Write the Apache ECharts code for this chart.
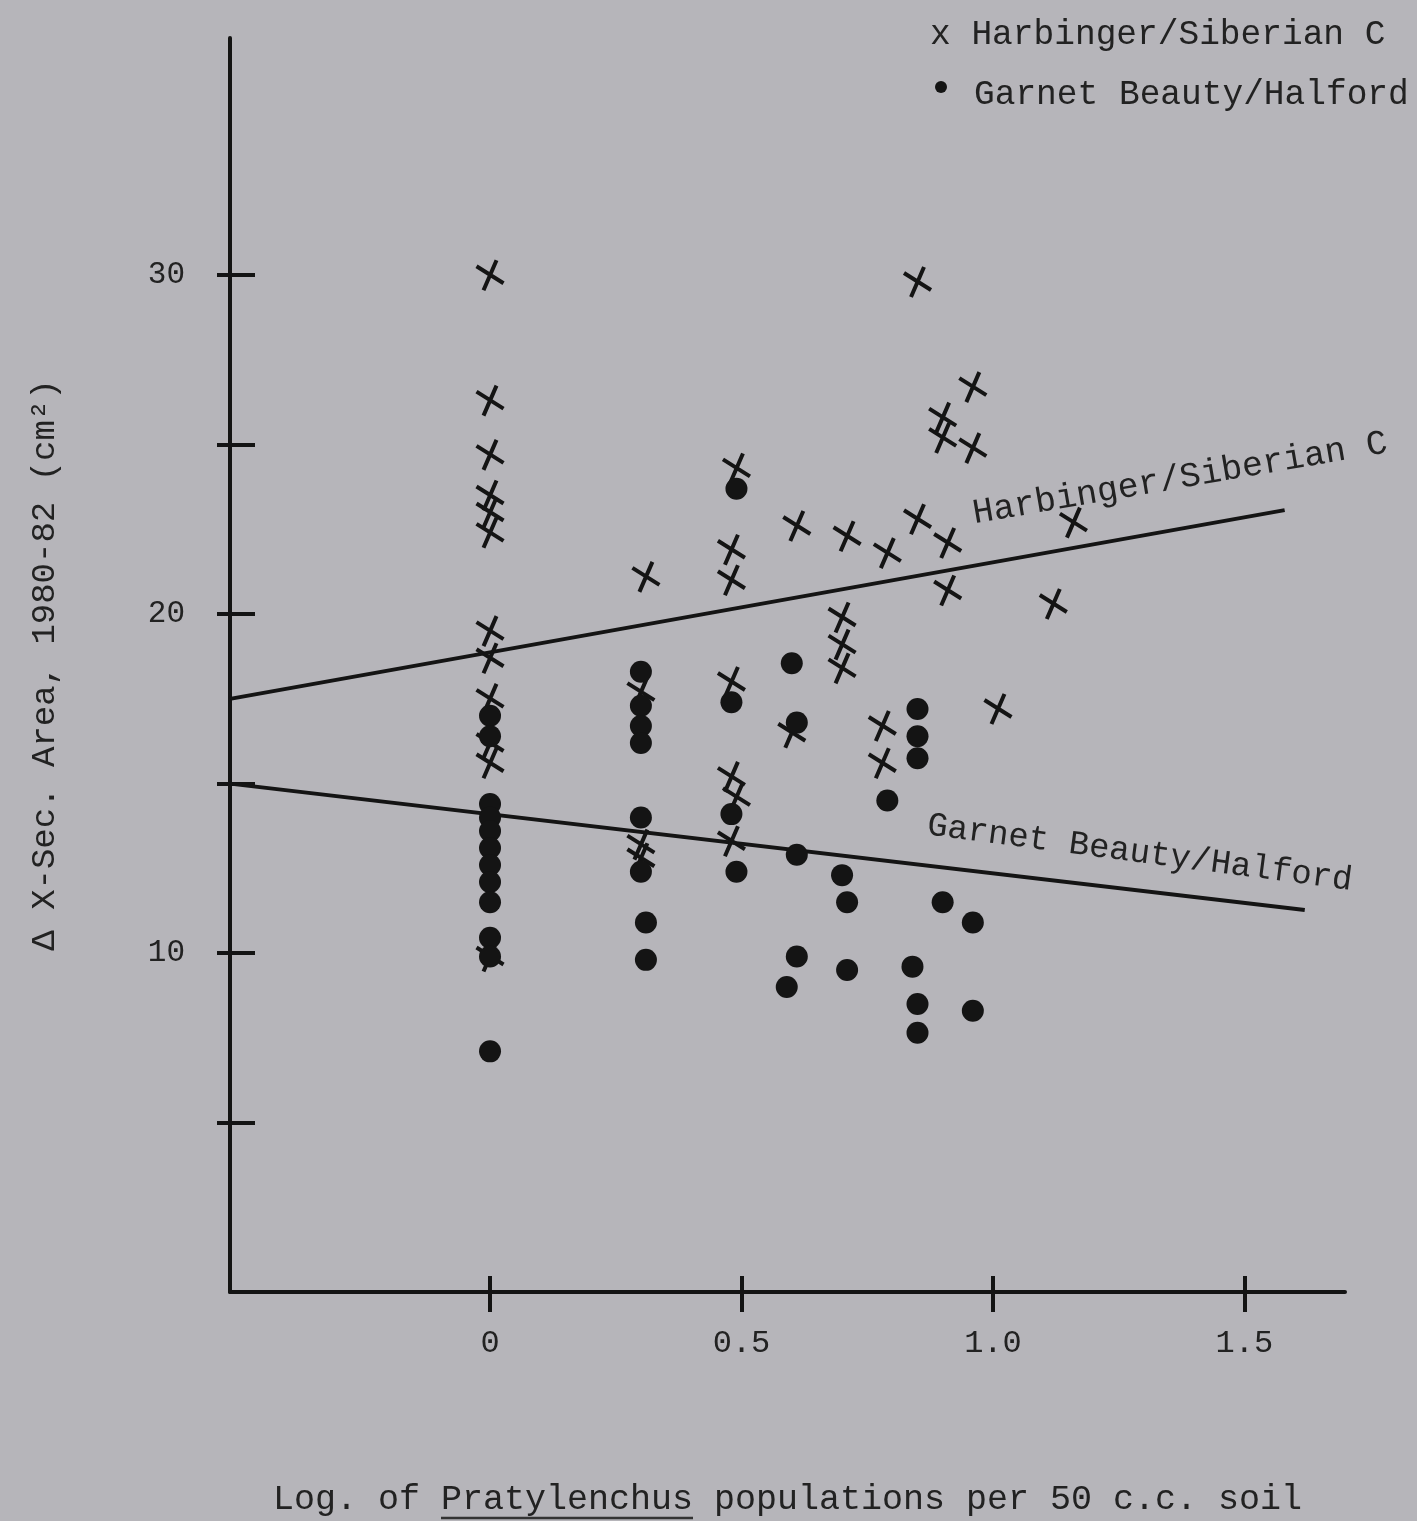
<!DOCTYPE html>
<html><head><meta charset="utf-8">
<script src="https://cdn.jsdelivr.net/npm/echarts@6/dist/echarts.min.js"></script>
<style>html,body{margin:0;padding:0;background:#b6b5ba}#c{width:1417px;height:1521px}</style>
</head><body><div id="c"></div>
<script>
// Harbinger/Siberian C  (x marks)  [log population, delta area]
const harbinger = [
  [0,30.0],[0,26.3],[0,24.7],[0,23.5],[0,23.0],[0,22.4],[0,19.5],[0,18.7],[0,17.5],[0,16.2],[0,15.6],[0,9.9],
  [0.31,21.1],[0.30,17.7],[0.30,13.2],[0.30,12.8],
  [0.49,24.3],[0.48,21.9],[0.48,21.0],[0.48,18.0],[0.48,15.2],[0.49,14.6],[0.48,13.3],
  [0.61,22.6],[0.60,16.5],
  [0.71,22.3],[0.70,19.9],[0.70,19.1],[0.70,18.4],
  [0.79,21.8],[0.78,16.7],[0.78,15.6],
  [0.85,29.8],[0.85,22.8],
  [0.90,25.8],[0.90,25.2],[0.91,22.1],[0.91,20.7],
  [0.96,26.7],[0.96,24.9],
  [1.01,17.2],
  [1.12,20.3],
  [1.16,22.7]
];
// Garnet Beauty/Halford (dots)
const garnet = [
  [0,17.0],[0,16.4],[0,14.4],[0,14.0],[0,13.6],[0,13.1],[0,12.6],[0,12.1],[0,11.5],[0,10.45],[0,9.9],[0,7.1],
  [0.30,18.3],[0.30,17.3],[0.30,16.7],[0.30,16.2],[0.30,14.0],[0.30,12.4],[0.31,10.9],[0.31,9.8],
  [0.49,23.7],[0.48,17.4],[0.48,14.1],[0.49,12.4],
  [0.60,18.55],[0.61,16.8],[0.61,12.9],[0.61,9.9],[0.59,9.0],
  [0.70,12.3],[0.71,11.5],[0.71,9.5],
  [0.79,14.5],
  [0.85,17.2],[0.85,16.4],[0.85,15.75],[0.84,9.6],[0.85,8.5],[0.85,7.65],
  [0.90,11.5],
  [0.96,10.9],[0.96,8.3]
];
// fitted regression lines (end points)
const harbingerFit = [[-0.517,17.5],[1.58,23.07]];
const garnetFit = [[-0.517,15.0],[1.62,11.27]];
const xTicks = [0,0.5,1.0,1.5];
const xTickLabels = {0:'0',0.5:'0.5',1:'1.0',1.5:'1.5'};
const yTicks = [5,10,15,20,25,30];
const yLabelValues = [10,20,30];
const harbingerName = 'Harbinger/Siberian C';
const garnetName = 'Garnet Beauty/Halford';
const xTitleParts = ['Log. of ','Pratylenchus',' populations per 50 c.c. soil'];
const yTitle = 'Δ X-Sec. Area, 1980-82 (cm²)';

const INK = '#141414';
const FONT = '"Liberation Mono","DejaVu Sans Mono",monospace';
const chart = echarts.init(document.getElementById('c'), null, {renderer:'canvas'});

const crossPath = 'path://M2,7 L29,24 M22,1 L9,31';

const xBase = {
  type:'value', min:-0.517, max:1.70, gridIndex:0,
  splitLine:{show:false}
};
const yBase = {
  type:'value', min:0, max:37, gridIndex:0,
  splitLine:{show:false}
};
const X_FS = 35;
chart.setOption({
  backgroundColor:'#b6b5ba',
  animation:false,
  grid:{left:230,right:72,top:38,bottom:229,outerBoundsMode:'none',containLabel:false},
  xAxis:[
    Object.assign({}, xBase, {
      position:'bottom',
      axisLine:{show:true,onZero:false,lineStyle:{color:INK,width:4}},
      axisTick:{show:true,inside:false,length:20,customValues:xTicks,lineStyle:{color:INK,width:4}},
      axisLabel:{show:true,customValues:xTicks,margin:36,color:'#222',fontFamily:FONT,fontSize:32,
        formatter:v=>xTickLabels[v]!==undefined?xTickLabels[v]:''},
      name: xTitleParts.join(''), nameLocation:'middle', nameGap:190,
      nameTextStyle:{color:'#222',fontFamily:FONT,fontSize:X_FS}
    }),
    Object.assign({}, xBase, {
      position:'bottom',
      axisLine:{show:false,onZero:false},
      axisTick:{show:true,inside:true,length:16,customValues:xTicks,lineStyle:{color:INK,width:4}},
      axisLabel:{show:false}
    })
  ],
  yAxis:[
    Object.assign({}, yBase, {
      position:'left',
      axisLine:{show:true,onZero:false,lineStyle:{color:INK,width:4}},
      axisTick:{show:true,inside:false,length:13,customValues:yTicks,lineStyle:{color:INK,width:4}},
      axisLabel:{show:true,customValues:yLabelValues,margin:45,color:'#222',fontFamily:FONT,fontSize:31},
      name: yTitle, nameLocation:'middle', nameGap:168, nameRotate:90,
      nameTextStyle:{color:'#222',fontFamily:FONT,fontSize:34}
    }),
    Object.assign({}, yBase, {
      position:'left',
      axisLine:{show:false,onZero:false},
      axisTick:{show:true,inside:true,length:25,customValues:yTicks,lineStyle:{color:INK,width:4}},
      axisLabel:{show:false}
    })
  ],
  series:[
    {type:'line',name:harbingerName+' fit',data:harbingerFit,showSymbol:false,symbol:'none',
      lineStyle:{color:INK,width:4},xAxisIndex:0,yAxisIndex:0,silent:true,z:2},
    {type:'line',name:garnetName+' fit',data:garnetFit,showSymbol:false,symbol:'none',
      lineStyle:{color:INK,width:4},xAxisIndex:0,yAxisIndex:0,silent:true,z:2},
    {type:'scatter',name:harbingerName,data:harbinger,symbol:crossPath,symbolSize:30,symbolKeepAspect:true,
      itemStyle:{color:'rgba(0,0,0,0)',borderColor:INK,borderWidth:4,opacity:1},z:3},
    {type:'scatter',name:garnetName,data:garnet,symbol:'circle',symbolSize:22,
      itemStyle:{color:INK,opacity:1},z:3}
  ]
});

// labels placed via data coordinates
const hp = chart.convertToPixel({xAxisIndex:0,yAxisIndex:0},[1.372,24.0]);
const gp = chart.convertToPixel({xAxisIndex:0,yAxisIndex:0},[1.292,12.95]);
// underline of the genus name in the x title
const cw = 0.6*X_FS;
const totalW = xTitleParts.join('').length*cw;
const xCenter = (230 + (1417-72))/2;
const ulStart = xCenter - totalW/2 + xTitleParts[0].length*cw;
const ulEnd = ulStart + xTitleParts[1].length*cw;
const titleTop = 1292 + 190;

chart.setOption({
  graphic:[
    {type:'text',x:hp[0],y:hp[1],rotation:0.17,style:{text:harbingerName,fill:'#222',font:'35px '+FONT,align:'center',verticalAlign:'middle'}},
    {type:'text',x:gp[0],y:gp[1],rotation:-0.13,style:{text:garnetName,fill:'#222',font:'34px '+FONT,align:'center',verticalAlign:'middle'}},
    {type:'text',left:930,top:17,style:{text:'x '+harbingerName,fill:'#222',font:'34.5px '+FONT}},
    {type:'circle',shape:{cx:941,cy:87,r:6},style:{fill:INK}},
    {type:'text',left:974,top:77,style:{text:garnetName,fill:'#222',font:'34.5px '+FONT}},
    {type:'line',shape:{x1:ulStart,y1:titleTop+36,x2:ulEnd,y2:titleTop+36},style:{stroke:'#333',lineWidth:2.5}}
  ]
});
</script></body></html>
